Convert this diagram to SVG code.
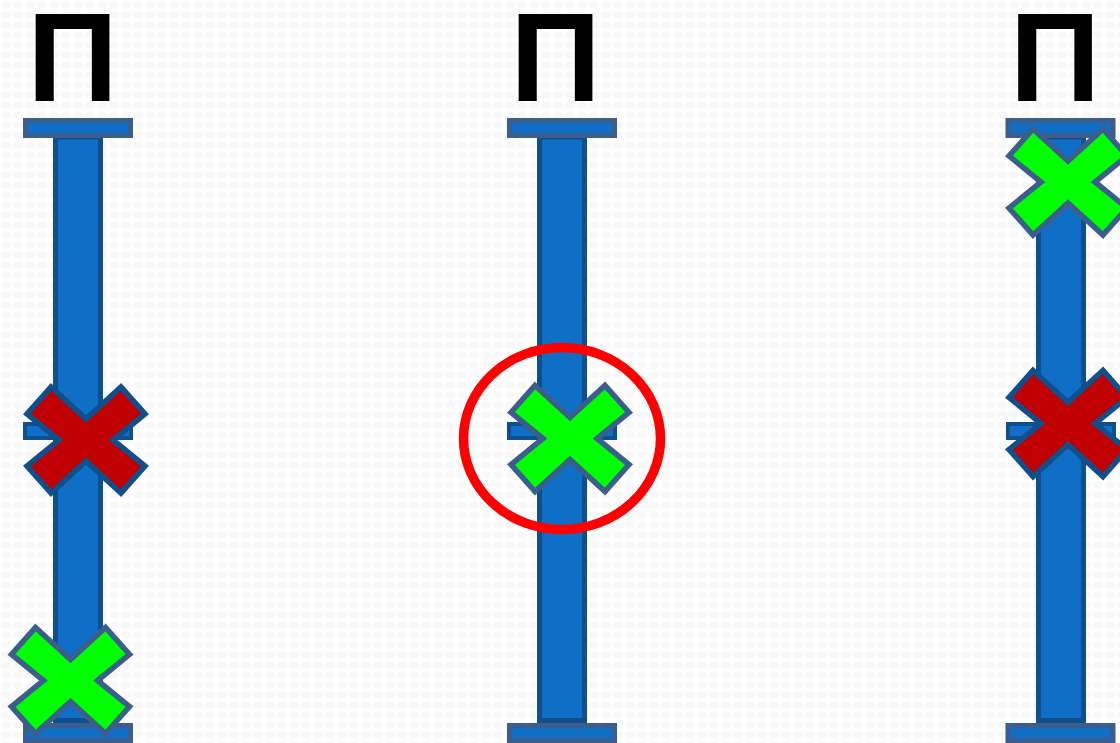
<svg xmlns="http://www.w3.org/2000/svg" xmlns:xlink="http://www.w3.org/1999/xlink" width="1120" height="743" viewBox="0 0 1120 743">
<style>
.bar{fill:#0f6fc6;stroke:#0e4f8c;stroke-width:5}
.cap{fill:#0f6fc6;stroke:#3b5e8c;stroke-width:5}
.mid{fill:#0f6fc6;stroke:#0e4f8c;stroke-width:4}
.xr{fill:#c00000;stroke:#0e4f8c;stroke-width:5.5;stroke-linejoin:miter}
.xg{fill:#00ff00;stroke:#3b5e8c;stroke-width:5.5;stroke-linejoin:miter}
.pe{font-family:"Liberation Sans",Arial,sans-serif;font-weight:bold;font-size:126px;fill:#000;text-anchor:middle}
.ring{fill:none;stroke:#ff0000;stroke-width:9.5}
</style>
<defs>
<pattern id="bg" width="12" height="10" patternUnits="userSpaceOnUse">
<rect width="12" height="10" fill="#ffffff"/>
<ellipse cx="6" cy="5" rx="5" ry="3.5" fill="#f8f8f8"/>
</pattern>
<polygon id="cross" points="-35,-53 0,-21 35,-53 59,-26 27,0 59,26 35,53 0,21 -35,53 -59,26 -27,0 -59,-26"/>
</defs>
<rect width="1120" height="743" fill="url(#bg)"/>
<g id="col1">
<text class="pe" x="72.5" y="101">П</text>
<rect class="bar" x="55.5" y="137" width="45" height="583.5"/>
<rect class="cap" x="25.5" y="120.5" width="105" height="15"/>
<rect class="mid" x="25" y="424" width="106" height="14"/>
<rect class="cap" x="25.5" y="725.5" width="105" height="15"/>
<use id="col1-red" xlink:href="#cross" href="#cross" class="xr" transform="translate(86,440)"/>
<use id="col1-green" xlink:href="#cross" href="#cross" class="xg" transform="translate(70.5,680.5)"/>
</g>
<g id="col2">
<text class="pe" x="555.5" y="101">П</text>
<rect class="bar" x="539.5" y="137" width="45" height="583.5"/>
<rect class="cap" x="509.5" y="120.5" width="105" height="15"/>
<rect class="mid" x="509" y="424" width="106" height="14"/>
<rect class="cap" x="509.5" y="725.5" width="105" height="15"/>
<use id="col2-green" xlink:href="#cross" href="#cross" class="xg" transform="translate(570,438.5)"/>
<ellipse id="col2-ring" class="ring" cx="562" cy="438.5" rx="98.5" ry="91"/>
</g>
<g id="col3">
<text class="pe" x="1055" y="101">П</text>
<rect class="bar" x="1038.5" y="137" width="45" height="583.5"/>
<rect class="cap" x="1008" y="120.5" width="105" height="15"/>
<rect class="mid" x="1008" y="424" width="106" height="14"/>
<rect class="cap" x="1008" y="725.5" width="105" height="15"/>
<use id="col3-green" xlink:href="#cross" href="#cross" class="xg" transform="translate(1068,182)"/>
<use id="col3-red" xlink:href="#cross" href="#cross" class="xr" transform="translate(1068,423.5)"/>
</g>
<g id="connectors"/>
</svg>
